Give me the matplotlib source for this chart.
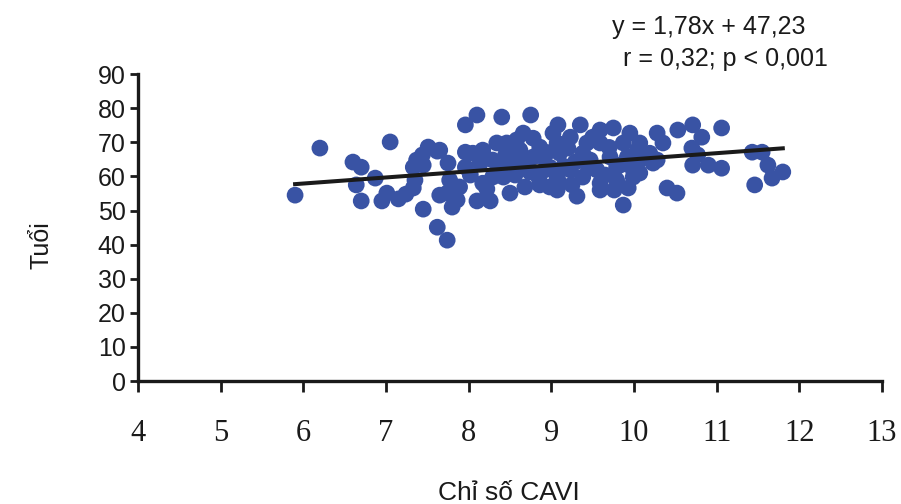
import numpy as np
import matplotlib
matplotlib.use("Agg")
import matplotlib.pyplot as plt

# CAVI index vs age
cavi = [5.90, 6.20, 6.60, 6.70, 6.64, 6.70, 6.87, 7.05, 6.95, 7.01,
        7.15, 7.24, 7.33, 7.35, 7.37, 7.44, 7.51, 7.62, 7.33, 7.45,
        7.45, 7.62, 7.74, 7.75, 7.65, 7.65, 7.80, 7.77, 7.89, 7.74,
        7.86, 7.96, 8.10, 8.40, 8.75, 7.96, 8.05, 8.17, 8.34, 8.46,
        8.58, 8.66, 8.78, 9.02, 9.08, 7.96, 8.10, 8.26, 8.50, 8.68,
        8.86, 8.98, 9.07, 8.17, 8.29, 8.42, 8.50, 8.29, 8.14, 8.62,
        8.78, 8.90, 8.98, 9.35, 9.59, 9.75, 9.95, 10.28, 10.35, 9.07,
        9.23, 9.43, 9.59, 9.87, 10.04, 10.19, 9.10, 9.38, 9.71, 9.92,
        10.07, 9.23, 9.55, 9.79, 9.99, 10.23, 9.10, 9.38, 9.59, 9.79,
        9.99, 9.07, 9.31, 9.59, 9.76, 9.93, 9.87, 10.40, 10.52, 10.28,
        10.07, 10.53, 10.71, 10.82, 11.06, 10.70, 10.77, 10.71, 10.90, 11.06,
        11.43, 11.55, 11.62, 11.80, 11.67, 11.46, 10.07, 8.38, 8.74, 8.56,
        8.92, 8.02, 8.22, 9.47, 9.65, 9.29, 8.62, 8.86, 9.20, 8.70,
        8.95, 9.15, 9.45, 9.70, 9.85, 8.45, 8.85, 9.50, 9.25]
age = [54.5, 68.3, 64.2, 62.7, 57.5, 52.8, 59.5, 70.1, 52.8, 55.1,
       53.4, 54.8, 56.6, 58.9, 64.8, 66.3, 68.6, 67.4, 62.7, 63.3,
       50.4, 45.1, 41.3, 63.9, 67.7, 54.5, 51.0, 58.9, 56.9, 55.1,
       53.1, 75.1, 78.0, 77.4, 78.0, 67.1, 66.8, 67.7, 69.8, 69.8,
       70.7, 72.7, 71.2, 72.7, 75.1, 62.7, 52.8, 52.8, 55.1, 56.9,
       57.5, 56.9, 59.8, 58.0, 59.8, 59.8, 64.8, 64.8, 63.9, 63.9,
       65.7, 65.7, 62.7, 75.1, 73.6, 74.2, 72.7, 72.7, 69.8, 69.8,
       71.5, 69.8, 69.8, 69.8, 67.7, 66.8, 66.8, 66.8, 65.7, 65.7,
       64.8, 61.9, 61.9, 62.7, 61.9, 63.9, 58.0, 59.8, 58.0, 58.9,
       59.8, 56.0, 54.2, 56.0, 56.0, 56.6, 51.6, 56.6, 55.1, 64.8,
       61.0, 73.6, 75.1, 71.5, 74.2, 68.3, 66.3, 63.3, 63.3, 62.4,
       67.1, 67.1, 63.3, 61.3, 59.5, 57.5, 69.8, 62.4, 61.3, 60.4,
       61.9, 60.4, 56.3, 64.8, 60.4, 64.2, 67.7, 68.6, 68.3, 64.5,
       67.0, 63.0, 62.5, 68.5, 63.5, 66.5, 59.5, 71.5, 57.5]

slope, intercept = 1.78, 47.23
x_ticks = [4, 5, 6, 7, 8, 9, 10, 11, 12, 13]
y_ticks = [0, 10, 20, 30, 40, 50, 60, 70, 80, 90]

ink = '#1a1a1a'

fig = plt.figure(figsize=(9.01, 5.04), dpi=100)
ax = fig.add_axes([0.1532, 0.244, 0.8257, 0.609])

ax.scatter(cavi, age, s=145, color='#3953a4', edgecolors='none', zorder=3)

xl = np.array([min(cavi), max(cavi)])
ax.plot(xl, slope * xl + intercept, color=ink, lw=2.9, zorder=4)

ax.set_xlim(4, 13)
ax.set_ylim(0, 90)
ax.set_xticks(x_ticks)
ax.set_yticks(y_ticks)

for s in ['top', 'right']:
    ax.spines[s].set_visible(False)
for s in ['left', 'bottom']:
    ax.spines[s].set_linewidth(2.4)
    ax.spines[s].set_color(ink)

ax.tick_params(axis='x', direction='out', length=8, width=2, pad=19,
               colors=ink, labelsize=22)
ax.tick_params(axis='y', direction='out', length=6, width=2, pad=3,
               colors=ink, labelsize=18)
for lab in ax.get_xticklabels():
    lab.set_family('Liberation Serif')
for lab in ax.get_yticklabels():
    lab.set_family('Liberation Sans')

fig.text(0.046, 0.513, 'Tuổi', rotation=90, ha='center', va='center',
         fontsize=18, family='Liberation Sans', color=ink)
fig.text(0.565, 0.022, 'Chỉ số CAVI', ha='center', va='center',
         fontsize=19, family='Liberation Sans', color=ink)

fig.text(0.679, 0.947, 'y = 1,78x + 47,23', ha='left', va='center',
         fontsize=18, family='Liberation Sans', color=ink)
fig.text(0.692, 0.882, 'r = 0,32; p < 0,001', ha='left', va='center',
         fontsize=18, family='Liberation Sans', color=ink)

fig.savefig('out.png', dpi=100)
